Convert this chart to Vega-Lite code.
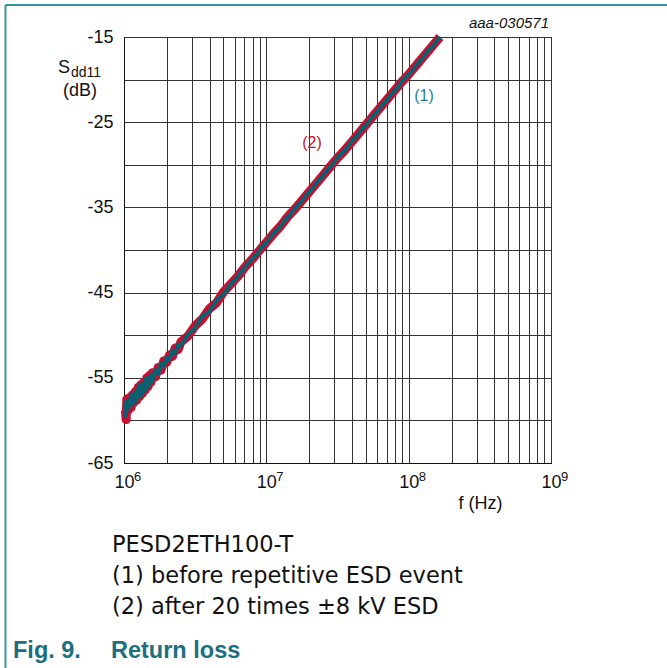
{
  "$schema": "https://vega.github.io/schema/vega-lite/v6.json",
  "width": 427,
  "height": 426,
  "autosize": {"type": "none"},
  "padding": {"left": 124, "top": 37, "right": 116, "bottom": 205},
  "background": "white",
  "config": {
    "font": "Liberation Sans",
    "view": {"stroke": "#111", "strokeWidth": 1},
    "axis": {"gridColor": "#333", "gridOpacity": 1, "gridWidth": 1, "domainColor": "#111", "ticks": false, "labelFont": "Liberation Sans", "labelFontSize": 18, "labelColor": "#111", "labelOverlap": false, "labelFlush": false, "labelBound": false, "titleFont": "Liberation Sans", "titleFontWeight": "normal", "titleColor": "#111"}
  },
  "resolve": {"axis": {"x": "independent", "y": "independent"}},
  "datasets": {
    "curves": [
      {"f":1.023e6,"db":-58.8,"s":"2"},{"f":1.035e6,"db":-59.9,"s":"2"},{"f":1.047e6,"db":-57.5,"s":"2"},{"f":1.072e6,"db":-58.8,"s":"2"},{"f":1.096e6,"db":-57.3,"s":"2"},{"f":1.122e6,"db":-58.5,"s":"2"},{"f":1.148e6,"db":-57.0,"s":"2"},{"f":1.175e6,"db":-57.9,"s":"2"},{"f":1.202e6,"db":-56.6,"s":"2"},{"f":1.230e6,"db":-57.6,"s":"2"},{"f":1.259e6,"db":-56.1,"s":"2"},{"f":1.288e6,"db":-57.2,"s":"2"},{"f":1.318e6,"db":-55.8,"s":"2"},{"f":1.349e6,"db":-56.8,"s":"2"},{"f":1.380e6,"db":-55.5,"s":"2"},{"f":1.413e6,"db":-56.4,"s":"2"},{"f":1.445e6,"db":-55.0,"s":"2"},{"f":1.479e6,"db":-56.0,"s":"2"},{"f":1.514e6,"db":-54.7,"s":"2"},{"f":1.549e6,"db":-55.5,"s":"2"},{"f":1.585e6,"db":-54.4,"s":"2"},{"f":1.660e6,"db":-54.9,"s":"2"},{"f":1.738e6,"db":-53.8,"s":"2"},{"f":1.820e6,"db":-54.1,"s":"2"},{"f":1.905e6,"db":-53.0,"s":"2"},{"f":1.995e6,"db":-53.2,"s":"2"},{"f":2.089e6,"db":-52.3,"s":"2"},{"f":2.188e6,"db":-52.5,"s":"2"},{"f":2.291e6,"db":-51.5,"s":"2"},{"f":2.399e6,"db":-51.7,"s":"2"},{"f":2.512e6,"db":-50.8,"s":"2"},{"f":2.818e6,"db":-50.1,"s":"2"},{"f":3.162e6,"db":-48.9,"s":"2"},{"f":3.548e6,"db":-48.1,"s":"2"},{"f":3.981e6,"db":-46.9,"s":"2"},{"f":4.467e6,"db":-46.2,"s":"2"},{"f":5.012e6,"db":-44.9,"s":"2"},{"f":5.623e6,"db":-44.0,"s":"2"},{"f":6.310e6,"db":-43.1,"s":"2"},{"f":7.079e6,"db":-42.0,"s":"2"},{"f":7.943e6,"db":-41.1,"s":"2"},{"f":8.913e6,"db":-40.1,"s":"2"},{"f":1.0e7,"db":-39.1,"s":"2"},{"f":1.122e7,"db":-38.1,"s":"2"},{"f":1.259e7,"db":-37.2,"s":"2"},{"f":1.413e7,"db":-36.1,"s":"2"},{"f":1.585e7,"db":-35.2,"s":"2"},{"f":1.778e7,"db":-34.2,"s":"2"},{"f":1.995e7,"db":-33.2,"s":"2"},{"f":2.239e7,"db":-32.2,"s":"2"},{"f":2.512e7,"db":-31.2,"s":"2"},{"f":2.818e7,"db":-30.2,"s":"2"},{"f":3.162e7,"db":-29.2,"s":"2"},{"f":3.548e7,"db":-28.3,"s":"2"},{"f":3.981e7,"db":-27.3,"s":"2"},{"f":4.467e7,"db":-26.3,"s":"2"},{"f":5.012e7,"db":-25.3,"s":"2"},{"f":5.623e7,"db":-24.3,"s":"2"},{"f":6.310e7,"db":-23.3,"s":"2"},{"f":7.079e7,"db":-22.3,"s":"2"},{"f":7.943e7,"db":-21.3,"s":"2"},{"f":8.913e7,"db":-20.3,"s":"2"},{"f":1.0e8,"db":-19.4,"s":"2"},{"f":1.122e8,"db":-18.4,"s":"2"},{"f":1.259e8,"db":-17.4,"s":"2"},{"f":1.413e8,"db":-16.4,"s":"2"},{"f":1.585e8,"db":-15.4,"s":"2"},{"f":1.660e8,"db":-15.0,"s":"2"},
      {"f":1.023e6,"db":-59.6,"s":"1"},{"f":1.035e6,"db":-57.8,"s":"1"},{"f":1.047e6,"db":-58.9,"s":"1"},{"f":1.072e6,"db":-57.6,"s":"1"},{"f":1.096e6,"db":-58.4,"s":"1"},{"f":1.122e6,"db":-57.0,"s":"1"},{"f":1.148e6,"db":-58.1,"s":"1"},{"f":1.175e6,"db":-56.8,"s":"1"},{"f":1.202e6,"db":-57.9,"s":"1"},{"f":1.230e6,"db":-56.3,"s":"1"},{"f":1.259e6,"db":-57.4,"s":"1"},{"f":1.288e6,"db":-55.9,"s":"1"},{"f":1.318e6,"db":-57.1,"s":"1"},{"f":1.349e6,"db":-55.6,"s":"1"},{"f":1.380e6,"db":-56.7,"s":"1"},{"f":1.413e6,"db":-55.2,"s":"1"},{"f":1.445e6,"db":-56.3,"s":"1"},{"f":1.479e6,"db":-54.9,"s":"1"},{"f":1.514e6,"db":-55.8,"s":"1"},{"f":1.549e6,"db":-54.6,"s":"1"},{"f":1.585e6,"db":-55.4,"s":"1"},{"f":1.660e6,"db":-54.1,"s":"1"},{"f":1.738e6,"db":-54.6,"s":"1"},{"f":1.820e6,"db":-53.3,"s":"1"},{"f":1.905e6,"db":-53.7,"s":"1"},{"f":1.995e6,"db":-52.6,"s":"1"},{"f":2.089e6,"db":-52.9,"s":"1"},{"f":2.188e6,"db":-51.8,"s":"1"},{"f":2.291e6,"db":-52.1,"s":"1"},{"f":2.399e6,"db":-51.1,"s":"1"},{"f":2.512e6,"db":-51.2,"s":"1"},{"f":2.818e6,"db":-49.9,"s":"1"},{"f":3.162e6,"db":-49.1,"s":"1"},{"f":3.548e6,"db":-47.8,"s":"1"},{"f":3.981e6,"db":-47.2,"s":"1"},{"f":4.467e6,"db":-45.9,"s":"1"},{"f":5.012e6,"db":-45.2,"s":"1"},{"f":5.623e6,"db":-44.0,"s":"1"},{"f":6.310e6,"db":-43.1,"s":"1"},{"f":7.079e6,"db":-42.0,"s":"1"},{"f":7.943e6,"db":-41.1,"s":"1"},{"f":8.913e6,"db":-40.1,"s":"1"},{"f":1.0e7,"db":-39.1,"s":"1"},{"f":1.122e7,"db":-38.1,"s":"1"},{"f":1.259e7,"db":-37.2,"s":"1"},{"f":1.413e7,"db":-36.1,"s":"1"},{"f":1.585e7,"db":-35.2,"s":"1"},{"f":1.778e7,"db":-34.2,"s":"1"},{"f":1.995e7,"db":-33.2,"s":"1"},{"f":2.239e7,"db":-32.2,"s":"1"},{"f":2.512e7,"db":-31.2,"s":"1"},{"f":2.818e7,"db":-30.2,"s":"1"},{"f":3.162e7,"db":-29.2,"s":"1"},{"f":3.548e7,"db":-28.3,"s":"1"},{"f":3.981e7,"db":-27.3,"s":"1"},{"f":4.467e7,"db":-26.3,"s":"1"},{"f":5.012e7,"db":-25.3,"s":"1"},{"f":5.623e7,"db":-24.3,"s":"1"},{"f":6.310e7,"db":-23.3,"s":"1"},{"f":7.079e7,"db":-22.3,"s":"1"},{"f":7.943e7,"db":-21.3,"s":"1"},{"f":8.913e7,"db":-20.3,"s":"1"},{"f":1.0e8,"db":-19.4,"s":"1"},{"f":1.122e8,"db":-18.4,"s":"1"},{"f":1.259e8,"db":-17.4,"s":"1"},{"f":1.413e8,"db":-16.4,"s":"1"},{"f":1.585e8,"db":-15.4,"s":"1"},{"f":1.660e8,"db":-15.0,"s":"1"}
    ],
    "expo": [{"f":1e6,"e":"6"},{"f":1e7,"e":"7"},{"f":1e8,"e":"8"},{"f":1e9,"e":"9"}]
  },
  "layer": [
    {
      "data": {"name": "curves"},
      "transform": [{"filter": "datum.s == '2'"}],
      "mark": {"type": "line", "color": "#c8102e", "strokeWidth": 9, "strokeJoin": "round"},
      "encoding": {
        "x": {"field": "f", "type": "quantitative", "scale": {"type": "log", "domain": [1000000, 1000000000], "nice": false},
          "axis": {"values": [1000000,2000000,3000000,4000000,5000000,6000000,7000000,8000000,9000000,10000000,20000000,30000000,40000000,50000000,60000000,70000000,80000000,90000000,100000000,200000000,300000000,400000000,500000000,600000000,700000000,800000000,900000000,1000000000],
            "labelExpr": "indexof([1000000,10000000,100000000,1000000000], datum.value) >= 0 ? '10' : ''",
            "labelPadding": 10, "labelDx": -4, "title": "f (Hz)", "titleFontSize": 18, "titleX": 356, "titleY": 40, "titleAlign": "center", "titleBaseline": "middle"}},
        "y": {"field": "db", "type": "quantitative", "scale": {"domain": [-65, -15], "nice": false, "zero": false},
          "axis": {"values": [-65,-60,-55,-50,-45,-40,-35,-30,-25,-20,-15],
            "labelExpr": "datum.value % 10 == -5 ? '' + datum.value : ''", "labelPadding": 11, "title": null}}
      }
    },
    {
      "data": {"name": "curves"},
      "transform": [{"filter": "datum.s == '1'"}],
      "mark": {"type": "line", "color": "#0c5f70", "strokeWidth": 4, "strokeJoin": "round"},
      "encoding": {
        "x": {"field": "f", "type": "quantitative", "scale": {"type": "log", "domain": [1000000, 1000000000], "nice": false}, "axis": null},
        "y": {"field": "db", "type": "quantitative", "scale": {"domain": [-65, -15], "nice": false, "zero": false}, "axis": null}
      }
    },
    {
      "data": {"name": "expo"},
      "mark": {"type": "text", "align": "left", "baseline": "top", "fontSize": 13, "dx": 10, "dy": 8, "color": "#111"},
      "encoding": {
        "x": {"field": "f", "type": "quantitative", "scale": {"type": "log", "domain": [1000000, 1000000000], "nice": false}, "axis": null},
        "y": {"datum": -65, "scale": {"domain": [-65, -15], "nice": false, "zero": false}, "axis": null},
        "text": {"field": "e"}
      }
    },
    {
      "data": {"values": [{}]},
      "resolve": {"axis": {"x": "independent", "y": "independent"}},
      "layer": [
        {"mark": {"type": "text", "text": "(1)", "fontSize": 16, "color": "#1d7f91", "align": "center", "baseline": "middle"},
         "encoding": {"x": {"datum": 128200000, "scale": {"type": "log", "domain": [1000000, 1000000000], "nice": false}, "axis": null},
                      "y": {"datum": -21.9, "scale": {"domain": [-65, -15], "nice": false, "zero": false}, "axis": null}}},
        {"mark": {"type": "text", "text": "(2)", "fontSize": 16, "color": "#c8102e", "align": "center", "baseline": "middle"},
         "encoding": {"x": {"datum": 20940000, "scale": {"type": "log", "domain": [1000000, 1000000000], "nice": false}, "axis": null},
                      "y": {"datum": -27.4, "scale": {"domain": [-65, -15], "nice": false, "zero": false}, "axis": null}}},
        {"mark": {"type": "text", "text": "aaa-030571", "fontSize": 15, "fontStyle": "italic", "color": "#111", "align": "right", "baseline": "middle", "dx": -2, "dy": -14},
         "encoding": {"x": {"datum": 1000000000, "scale": {"type": "log", "domain": [1000000, 1000000000], "nice": false}, "axis": null},
                      "y": {"datum": -15, "scale": {"domain": [-65, -15], "nice": false, "zero": false}, "axis": null}}},
        {"mark": {"type": "text", "text": "S", "fontSize": 18, "color": "#111", "align": "left", "baseline": "middle", "dx": -66, "dy": 31},
         "encoding": {"x": {"datum": 1000000, "scale": {"type": "log", "domain": [1000000, 1000000000], "nice": false}, "axis": null},
                      "y": {"datum": -15, "scale": {"domain": [-65, -15], "nice": false, "zero": false}, "axis": null}}},
        {"mark": {"type": "text", "text": "dd11", "fontSize": 14, "color": "#111", "align": "left", "baseline": "middle", "dx": -53, "dy": 35.5},
         "encoding": {"x": {"datum": 1000000, "scale": {"type": "log", "domain": [1000000, 1000000000], "nice": false}, "axis": null},
                      "y": {"datum": -15, "scale": {"domain": [-65, -15], "nice": false, "zero": false}, "axis": null}}},
        {"mark": {"type": "text", "text": "(dB)", "fontSize": 18, "color": "#111", "align": "center", "baseline": "middle", "dx": -44, "dy": 54},
         "encoding": {"x": {"datum": 1000000, "scale": {"type": "log", "domain": [1000000, 1000000000], "nice": false}, "axis": null},
                      "y": {"datum": -15, "scale": {"domain": [-65, -15], "nice": false, "zero": false}, "axis": null}}},
        {"mark": {"type": "text", "text": "PESD2ETH100-T", "font": "DejaVu Sans", "fontSize": 22.5, "color": "#111", "align": "left", "baseline": "middle", "dx": -12, "dy": 82},
         "encoding": {"x": {"datum": 1000000, "scale": {"type": "log", "domain": [1000000, 1000000000], "nice": false}, "axis": null},
                      "y": {"datum": -65, "scale": {"domain": [-65, -15], "nice": false, "zero": false}, "axis": null}}},
        {"mark": {"type": "text", "text": "(1) before repetitive ESD event", "font": "DejaVu Sans", "fontSize": 22.5, "color": "#111", "align": "left", "baseline": "middle", "dx": -12, "dy": 113},
         "encoding": {"x": {"datum": 1000000, "scale": {"type": "log", "domain": [1000000, 1000000000], "nice": false}, "axis": null},
                      "y": {"datum": -65, "scale": {"domain": [-65, -15], "nice": false, "zero": false}, "axis": null}}},
        {"mark": {"type": "text", "text": "(2) after 20 times ±8 kV ESD", "font": "DejaVu Sans", "fontSize": 22.5, "color": "#111", "align": "left", "baseline": "middle", "dx": -12, "dy": 144},
         "encoding": {"x": {"datum": 1000000, "scale": {"type": "log", "domain": [1000000, 1000000000], "nice": false}, "axis": null},
                      "y": {"datum": -65, "scale": {"domain": [-65, -15], "nice": false, "zero": false}, "axis": null}}},
        {"mark": {"type": "text", "text": "Fig. 9.", "fontSize": 23.5, "fontWeight": "bold", "color": "#1b6f7e", "align": "left", "baseline": "middle", "dx": -111, "dy": 188},
         "encoding": {"x": {"datum": 1000000, "scale": {"type": "log", "domain": [1000000, 1000000000], "nice": false}, "axis": null},
                      "y": {"datum": -65, "scale": {"domain": [-65, -15], "nice": false, "zero": false}, "axis": null}}},
        {"mark": {"type": "text", "text": "Return loss", "fontSize": 23.5, "fontWeight": "bold", "color": "#1b6f7e", "align": "left", "baseline": "middle", "dx": -13, "dy": 188},
         "encoding": {"x": {"datum": 1000000, "scale": {"type": "log", "domain": [1000000, 1000000000], "nice": false}, "axis": null},
                      "y": {"datum": -65, "scale": {"domain": [-65, -15], "nice": false, "zero": false}, "axis": null}}},
        {"mark": {"type": "rule", "color": "#3a939c", "strokeWidth": 2},
         "encoding": {"x": {"datum": 147000, "scale": {"type": "log", "domain": [1000000, 1000000000], "nice": false}, "axis": null},
                      "y": {"datum": -11.24, "scale": {"domain": [-65, -15], "nice": false, "zero": false}, "axis": null},
                      "y2": {"datum": -95}}},
        {"mark": {"type": "rule", "color": "#3a939c", "strokeWidth": 2},
         "encoding": {"x": {"datum": 147000, "scale": {"type": "log", "domain": [1000000, 1000000000], "nice": false}, "axis": null},
                      "x2": {"datum": 10000000000},
                      "y": {"datum": -11.24, "scale": {"domain": [-65, -15], "nice": false, "zero": false}, "axis": null}}}
      ]
    }
  ]
}
